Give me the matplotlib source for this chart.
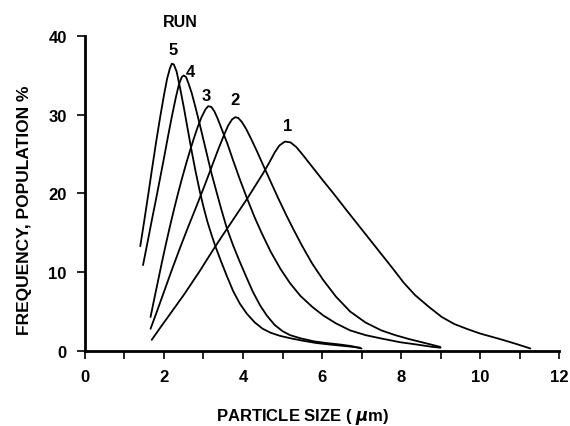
import matplotlib
matplotlib.use('Agg')
import matplotlib.pyplot as plt

plt.rcParams['font.family'] = ['Liberation Sans', 'DejaVu Sans']
plt.rcParams['font.weight'] = 'bold'

# Particle size distributions, one curve per run
run1_x = [1.69, 1.9, 2.1, 2.3, 2.5, 2.7, 2.9, 3.1, 3.29, 3.5, 3.7, 3.9, 4.1, 4.3, 4.5, 4.65, 4.8, 4.92,
          5.06, 5.2, 5.35, 5.53, 5.75, 6.0, 6.29, 6.6, 6.9, 7.2, 7.5, 7.8, 8.06, 8.35, 8.7, 9.03, 9.35,
          9.66, 10.0, 10.5, 10.9, 11.27]
run1_y = [1.4, 2.9, 4.3, 5.7, 7.1, 8.6, 10.1, 11.7, 13.2, 14.8, 16.3, 17.8, 19.3, 20.9, 22.5, 23.8, 25.2, 26.1,
          26.6, 26.5, 25.9, 24.8, 23.4, 21.8, 20.0, 18.0, 16.1, 14.2, 12.3, 10.4, 8.7, 7.1, 5.6, 4.3, 3.4,
          2.8, 2.2, 1.5, 0.9, 0.3]

run2_x = [1.66, 1.80, 2.00, 2.20, 2.40, 2.60, 2.80, 2.91, 3.05, 3.20, 3.35, 3.50, 3.62, 3.72, 3.80, 3.88,
          3.97, 4.08, 4.20, 4.35, 4.51, 4.70, 4.90, 5.10, 5.27, 5.50, 5.75, 6.03, 6.35, 6.71, 7.1, 7.5,
          7.85, 8.2, 8.6, 8.99]
run2_y = [2.8, 4.7, 7.5, 10.3, 13.0, 15.6, 18.1, 19.5, 21.3, 23.3, 25.3, 27.2, 28.6, 29.4, 29.7, 29.6,
          29.1, 28.2, 27.0, 25.4, 23.6, 21.5, 19.3, 17.2, 15.5, 13.3, 11.1, 9.0, 6.9, 5.0, 3.6, 2.6,
          2.0, 1.5, 1.0, 0.5]

run3_x = [1.66, 1.75, 1.85, 1.95, 2.05, 2.15, 2.25, 2.35, 2.45, 2.55, 2.65, 2.75, 2.85, 2.95, 3.05, 3.12,
          3.20, 3.28, 3.36, 3.46, 3.60, 3.75, 3.92, 4.10, 4.30, 4.47, 4.70, 4.95, 5.19, 5.45, 5.75, 6.03,
          6.35, 6.71, 7.1, 7.47, 7.97, 8.4, 8.8, 9.0]
run3_y = [4.3, 6.5, 8.9, 11.3, 13.6, 15.8, 17.9, 19.9, 21.8, 23.6, 25.3, 26.9, 28.4, 29.7, 30.7, 31.1,
          31.0, 30.4, 29.5, 28.2, 26.4, 24.2, 21.8, 19.4, 16.9, 15.0, 12.6, 10.4, 8.6, 7.0, 5.6, 4.5,
          3.5, 2.6, 2.0, 1.6, 1.1, 0.8, 0.5, 0.4]

run4_x = [1.47, 1.60, 1.70, 1.80, 1.90, 2.00, 2.10, 2.20, 2.30, 2.38, 2.45, 2.50, 2.56, 2.62, 2.70, 2.80,
          2.90, 3.00, 3.10, 3.20, 3.33, 3.45, 3.59, 3.75, 3.92, 4.10, 4.25, 4.43, 4.60, 4.80, 5.00, 5.19,
          5.45, 5.8, 6.1, 6.46, 6.75, 7.0]
run4_y = [10.9, 14.2, 16.8, 19.3, 21.9, 24.5, 27.2, 29.8, 32.2, 33.9, 34.8, 35.0, 34.8, 34.0, 32.8, 30.9,
          28.9, 26.8, 24.7, 22.6, 20.2, 18.0, 15.6, 13.4, 11.3, 9.2, 7.5, 5.8, 4.5, 3.3, 2.5, 2.0,
          1.6, 1.2, 1.0, 0.8, 0.6, 0.3]

run5_x = [1.40, 1.50, 1.60, 1.70, 1.80, 1.90, 2.00, 2.08, 2.15, 2.20, 2.25, 2.32, 2.40, 2.50, 2.60, 2.70,
          2.80, 2.91, 3.00, 3.10, 3.20, 3.30, 3.45, 3.60, 3.75, 3.92, 4.10, 4.30, 4.50, 4.70, 4.94, 5.2,
          5.5, 5.85, 6.2, 6.6, 6.96]
run5_y = [13.3, 16.5, 19.8, 23.2, 26.5, 29.6, 32.5, 34.6, 35.9, 36.5, 36.4, 35.5, 33.6, 31.0, 28.2, 25.4,
          22.8, 20.2, 18.3, 16.4, 14.8, 13.3, 11.3, 9.4, 7.6, 6.0, 4.7, 3.6, 2.8, 2.3, 1.9, 1.6,
          1.3, 1.0, 0.8, 0.6, 0.4]

runs = [(run1_x, run1_y), (run2_x, run2_y), (run3_x, run3_y), (run4_x, run4_y), (run5_x, run5_y)]

# Curve label positions
label_names = ['1', '2', '3', '4', '5']
label_x = [5.12, 3.80, 3.08, 2.66, 2.22]
label_y = [28.7, 32.0, 32.4, 35.5, 38.3]

fig = plt.figure(figsize=(5.7, 4.27), dpi=100)
ax = fig.add_axes([0.149, 0.176, 0.832, 0.737])

for xs, ys in runs:
    ax.plot(xs, ys, color='black', lw=1.3, solid_capstyle='round', solid_joinstyle='round')

for name, lx, ly in zip(label_names, label_x, label_y):
    ax.text(lx, ly, name, ha='center', va='center', fontsize=12, fontweight='bold')

ax.text(2.41, 41.8, 'RUN', ha='center', va='center', fontsize=11.5, fontweight='bold',
        clip_on=False)

ax.set_xlim(0, 12)
ax.set_ylim(0, 40)
ax.set_xticks(range(0, 13, 2))
ax.set_xticks(range(1, 12, 2), minor=True)
ax.set_yticks(range(0, 41, 10))

for side in ['top', 'right']:
    ax.spines[side].set_visible(False)
ax.spines['left'].set_linewidth(2.0)
ax.spines['bottom'].set_linewidth(2.0)

ax.tick_params(axis='both', which='major', direction='out', length=6, width=1.2,
               labelsize=12, pad=7)
ax.tick_params(axis='x', which='minor', direction='out', length=6, width=1.2)

ax.set_xlabel('PARTICLE SIZE ( $\\mu$m)', fontsize=12, fontweight='bold', labelpad=16)
ax.set_ylabel('FREQUENCY, POPULATION %', fontsize=12.5, fontweight='bold', labelpad=12)
ax.xaxis.label.set_x(0.46)
ax.yaxis.label.set_y(0.45)

fig.savefig('out.png', dpi=100)
